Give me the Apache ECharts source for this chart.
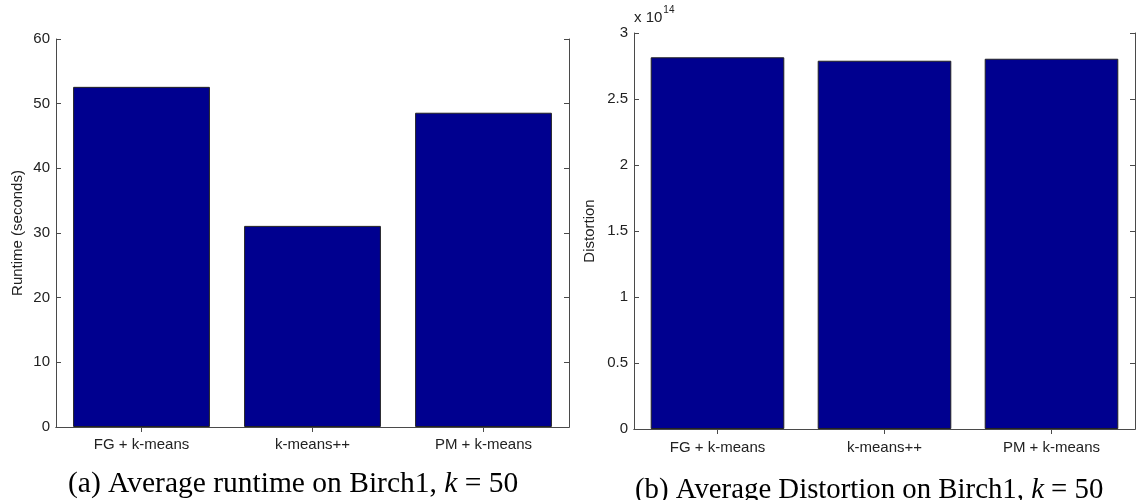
<!DOCTYPE html>
<html>
<head>
<meta charset="utf-8">
<script src="https://cdn.jsdelivr.net/npm/echarts@6/dist/echarts.min.js"></script>
<style>
html,body{margin:0;padding:0;background:#fff;}
#c{width:1136px;height:500px;}
</style>
</head>
<body>
<div id="c"></div>
<script>
var categories = ['FG + k-means', 'k-means++', 'PM + k-means'];
var runtimeSeconds = [52.6, 31.1, 48.6];
var distortion = [2.816e14, 2.790e14, 2.805e14];
var runtimeTicks = {min: 0, max: 60, interval: 10};
var distortionTicks = {min: 0, max: 3e14, interval: 0.5e14};
var distortionScale = 1e14;

var chart = echarts.init(document.getElementById('c'), null, {renderer: 'canvas'});
var axisColor = '#4a4a4a';
var labelColor = '#222';
var sans = 'Liberation Sans, Arial, sans-serif';
var serif = 'Liberation Serif, Times New Roman, serif';
var fs = 15;

function xAxes(gi, margin) {
  return [
    {type: 'category', gridIndex: gi, data: categories, position: 'bottom',
     axisLine: {lineStyle: {color: axisColor, width: 1}},
     axisTick: {show: true, inside: true, alignWithLabel: true, length: 5, lineStyle: {color: axisColor}},
     axisLabel: {color: labelColor, fontFamily: sans, fontSize: fs, margin: margin},
     splitLine: {show: false}},
    {type: 'category', gridIndex: gi, data: categories, position: 'top',
     axisLine: {lineStyle: {color: axisColor, width: 1}},
     axisTick: {show: true, inside: true, alignWithLabel: true, length: 5, lineStyle: {color: axisColor}},
     axisLabel: {show: false}, splitLine: {show: false}}
  ];
}
function yAxes(gi, t, name, fmt, nameGap) {
  return [
    {type: 'value', gridIndex: gi, position: 'left', min: t.min, max: t.max, interval: t.interval,
     name: name, nameLocation: 'middle', nameGap: nameGap, nameRotate: 90,
     nameTextStyle: {color: labelColor, fontFamily: sans, fontSize: fs},
     axisLine: {show: true, lineStyle: {color: axisColor, width: 1}},
     axisTick: {show: true, inside: true, length: 5, lineStyle: {color: axisColor}},
     axisLabel: {color: labelColor, fontFamily: sans, fontSize: fs, margin: 6, formatter: fmt},
     splitLine: {show: false}},
    {type: 'value', gridIndex: gi, position: 'right', min: t.min, max: t.max, interval: t.interval,
     axisLine: {show: true, lineStyle: {color: axisColor, width: 1}},
     axisTick: {show: true, inside: true, length: 5, lineStyle: {color: axisColor}},
     axisLabel: {show: false}, splitLine: {show: false}}
  ];
}

var xa = xAxes(0, 10).concat(xAxes(1, 11));
var ya = yAxes(0, runtimeTicks, 'Runtime (seconds)', function (v) { return String(v); }, 31)
  .concat(yAxes(1, distortionTicks, 'Distortion', function (v) { return String(+(v / distortionScale).toFixed(1)); }, 37));

var barStyle = {color: '#00008f', borderColor: '#222', borderWidth: 1};
function capRich(size) {
  return {
    n: {fontFamily: serif, fontSize: size, fontWeight: 'normal', color: '#000'},
    i: {fontFamily: serif, fontSize: size, fontStyle: 'italic', fontWeight: 'normal', color: '#000'}
  };
}

chart.setOption({
  animation: false,
  backgroundColor: '#fff',
  grid: [
    {left: 56, top: 39, right: 567, bottom: 73, containLabel: false},
    {left: 634, top: 33, right: 1, bottom: 71, containLabel: false}
  ],
  xAxis: xa,
  yAxis: ya,
  title: [
    {left: 68, top: 469, padding: 0,
     text: '{n|(a) Average runtime on Birch1, }{i|k}{n| = 50}',
     textStyle: {fontWeight: 'normal', rich: capRich(29.5)}},
    {left: 635, top: 476, padding: 0,
     text: '{n|(b) Average Distortion on Birch1, }{i|k}{n| = 50}',
     textStyle: {fontWeight: 'normal', rich: capRich(28.8)}},
    {left: 634, top: 5, padding: 0,
     text: '{a|x 10}{s|14}',
     textStyle: {fontWeight: 'normal', rich: {
       a: {fontFamily: sans, fontSize: fs, fontWeight: 'normal', color: labelColor, verticalAlign: 'bottom', lineHeight: 20},
       s: {fontFamily: sans, fontSize: 10, fontWeight: 'normal', color: labelColor, verticalAlign: 'top', lineHeight: 20, padding: [0, 0, 9, 1]}}}}
  ],
  series: [
    {type: 'bar', xAxisIndex: 0, yAxisIndex: 0, data: runtimeSeconds, barCategoryGap: '20%', itemStyle: barStyle},
    {type: 'bar', xAxisIndex: 2, yAxisIndex: 2, data: distortion, barCategoryGap: '20%', itemStyle: barStyle}
  ]
});
</script>
</body>
</html>
